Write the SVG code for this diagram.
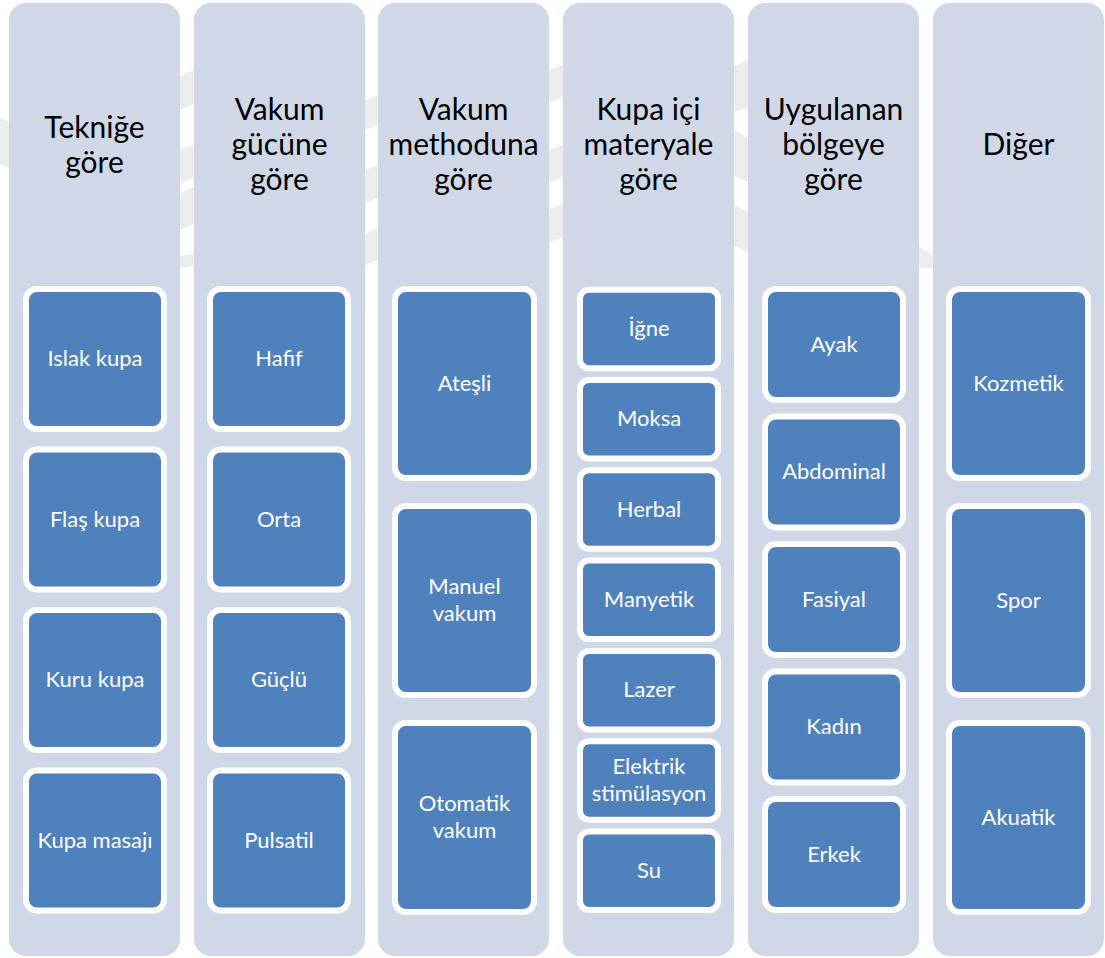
<svg xmlns="http://www.w3.org/2000/svg" width="1105" height="958" viewBox="0 0 1105 958">
  <style>
    .col { fill: #D0D8E8; }
    .box { fill: #4F81BD; stroke: #FFFFFF; stroke-width: 6; }
    .head { font-family: Lato, "Open Sans", "Liberation Sans", sans-serif; font-size: 30px; fill: #000000; text-anchor: middle; }
    .lbl { font-family: Lato, "Open Sans", "Liberation Sans", sans-serif; font-size: 22px; fill: #FFFFFF; text-anchor: middle; }
    .wm { fill: #EDEDED; }
  </style>

  <rect width="1105" height="958" fill="#FFFFFF"/>

  <!-- faint background emblem, mostly hidden behind the columns -->
  <g id="watermark">
    <polygon class="wm" points="0,118 9,122 9,168 0,164"/>
    <polygon class="wm" points="180,76 194,70 194,104 180,110"/>
    <polygon class="wm" points="180,150 194,144 194,177 180,183"/>
    <polygon class="wm" points="180,193 194,187 194,224 180,230"/>
    <polygon class="wm" points="180,256 194,254 194,266 180,268"/>
    <polygon class="wm" points="365,100 378,95 378,125 365,130"/>
    <polygon class="wm" points="365,170 378,165 378,198 365,203"/>
    <polygon class="wm" points="365,233 378,228 378,260 365,265"/>
    <polygon class="wm" points="549,70 563,64 563,97 549,103"/>
    <polygon class="wm" points="549,150 563,144 563,177 549,183"/>
    <polygon class="wm" points="549,210 563,204 563,237 549,243"/>
    <polygon class="wm" points="734,66 748,60 748,108 734,112"/>
    <polygon class="wm" points="734,130 748,138 748,182 734,176"/>
    <polygon class="wm" points="734,205 748,211 748,252 734,246"/>
    <polygon class="wm" points="919,247 933,255 933,268 919,268"/>
  </g>

  <!-- column panels -->
  <g id="columns">
    <rect class="col" x="9" y="3" width="171" height="953" rx="17"/>
    <rect class="col" x="194" y="3" width="171" height="953" rx="17"/>
    <rect class="col" x="378" y="3" width="171" height="953" rx="17"/>
    <rect class="col" x="563" y="3" width="171" height="953" rx="17"/>
    <rect class="col" x="748" y="3" width="171" height="953" rx="17"/>
    <rect class="col" x="933" y="3" width="171" height="953" rx="17"/>
  </g>

  <!-- column headings -->
  <g id="head-teknik">
    <text class="head" x="94.5" y="138">Tekniğe</text>
    <text class="head" x="94.5" y="173">göre</text>
  </g>
  <g id="head-guc">
    <text class="head" x="279.5" y="120">Vakum</text>
    <text class="head" x="279.5" y="155">gücüne</text>
    <text class="head" x="279.5" y="190">göre</text>
  </g>
  <g id="head-method">
    <text class="head" x="463.5" y="120">Vakum</text>
    <text class="head" x="463.5" y="155">methoduna</text>
    <text class="head" x="463.5" y="190">göre</text>
  </g>
  <g id="head-materyal">
    <text class="head" x="648.5" y="120">Kupa içi</text>
    <text class="head" x="648.5" y="155">materyale</text>
    <text class="head" x="648.5" y="190">göre</text>
  </g>
  <g id="head-bolge">
    <text class="head" x="833.5" y="120">Uygulanan</text>
    <text class="head" x="833.5" y="155">bölgeye</text>
    <text class="head" x="833.5" y="190">göre</text>
  </g>
  <g id="head-diger">
    <text class="head" x="1018.5" y="155">Diğer</text>
  </g>

  <!-- column 1 -->
  <g id="islak-kupa"><rect class="box" x="26" y="289" width="138" height="140" rx="11"/><text class="lbl" x="95" y="366">Islak kupa</text></g>
  <g id="flas-kupa"><rect class="box" x="26" y="449.5" width="138" height="140" rx="11"/><text class="lbl" x="95" y="526.5">Flaş kupa</text></g>
  <g id="kuru-kupa"><rect class="box" x="26" y="610" width="138" height="140" rx="11"/><text class="lbl" x="95" y="687">Kuru kupa</text></g>
  <g id="kupa-masaji"><rect class="box" x="26" y="770.5" width="138" height="140" rx="11"/><text class="lbl" x="95" y="847.5">Kupa masajı</text></g>

  <!-- column 2 -->
  <g id="hafif"><rect class="box" x="210" y="289" width="138" height="140" rx="11"/><text class="lbl" x="279" y="366">Hafif</text></g>
  <g id="orta"><rect class="box" x="210" y="449.5" width="138" height="140" rx="11"/><text class="lbl" x="279" y="526.5">Orta</text></g>
  <g id="guclu"><rect class="box" x="210" y="610" width="138" height="140" rx="11"/><text class="lbl" x="279" y="687">Güçlü</text></g>
  <g id="pulsatil"><rect class="box" x="210" y="770.5" width="138" height="140" rx="11"/><text class="lbl" x="279" y="847.5">Pulsatil</text></g>

  <!-- column 3 -->
  <g id="atesli"><rect class="box" x="395" y="289" width="139" height="189" rx="11"/><text class="lbl" x="464.5" y="390.5">Ateşli</text></g>
  <g id="manuel-vakum"><rect class="box" x="395" y="506" width="139" height="189" rx="11"/><text class="lbl" x="464.5" y="594">Manuel</text><text class="lbl" x="464.5" y="620.5">vakum</text></g>
  <g id="otomatik-vakum"><rect class="box" x="395" y="723" width="139" height="189" rx="11"/><text class="lbl" x="464.5" y="811">Otomatik</text><text class="lbl" x="464.5" y="837.5">vakum</text></g>

  <!-- column 4 -->
  <g id="igne"><rect class="box" x="580" y="289.7" width="138" height="78.5" rx="9"/><text class="lbl" x="649" y="336">İğne</text></g>
  <g id="moksa"><rect class="box" x="580" y="380" width="138" height="78.5" rx="9"/><text class="lbl" x="649" y="426.3">Moksa</text></g>
  <g id="herbal"><rect class="box" x="580" y="470.3" width="138" height="78.5" rx="9"/><text class="lbl" x="649" y="516.6">Herbal</text></g>
  <g id="manyetik"><rect class="box" x="580" y="560.6" width="138" height="78.5" rx="9"/><text class="lbl" x="649" y="606.9">Manyetik</text></g>
  <g id="lazer"><rect class="box" x="580" y="651" width="138" height="78.5" rx="9"/><text class="lbl" x="649" y="697.3">Lazer</text></g>
  <g id="elektrik"><rect class="box" x="580" y="741.3" width="138" height="78.5" rx="9"/><text class="lbl" x="649" y="774">Elektrik</text><text class="lbl" x="649" y="800.7">stimülasyon</text></g>
  <g id="su"><rect class="box" x="580" y="831.6" width="138" height="78.5" rx="9"/><text class="lbl" x="649" y="877.9">Su</text></g>

  <!-- column 5 -->
  <g id="ayak"><rect class="box" x="765" y="289" width="138" height="111" rx="11"/><text class="lbl" x="834" y="351.5">Ayak</text></g>
  <g id="abdominal"><rect class="box" x="765" y="416.5" width="138" height="111" rx="11"/><text class="lbl" x="834" y="479">Abdominal</text></g>
  <g id="fasiyal"><rect class="box" x="765" y="544" width="138" height="111" rx="11"/><text class="lbl" x="834" y="606.5">Fasiyal</text></g>
  <g id="kadin"><rect class="box" x="765" y="671.5" width="138" height="111" rx="11"/><text class="lbl" x="834" y="734">Kadın</text></g>
  <g id="erkek"><rect class="box" x="765" y="799" width="138" height="111" rx="11"/><text class="lbl" x="834" y="861.5">Erkek</text></g>

  <!-- column 6 -->
  <g id="kozmetik"><rect class="box" x="949" y="289" width="139" height="189" rx="11"/><text class="lbl" x="1018.5" y="390.5">Kozmetik</text></g>
  <g id="spor"><rect class="box" x="949" y="506" width="139" height="189" rx="11"/><text class="lbl" x="1018.5" y="607.5">Spor</text></g>
  <g id="akuatik"><rect class="box" x="949" y="723" width="139" height="189" rx="11"/><text class="lbl" x="1018.5" y="824.5">Akuatik</text></g>

  <!-- no connectors in this chart -->
  <g id="connectors"/>
</svg>
